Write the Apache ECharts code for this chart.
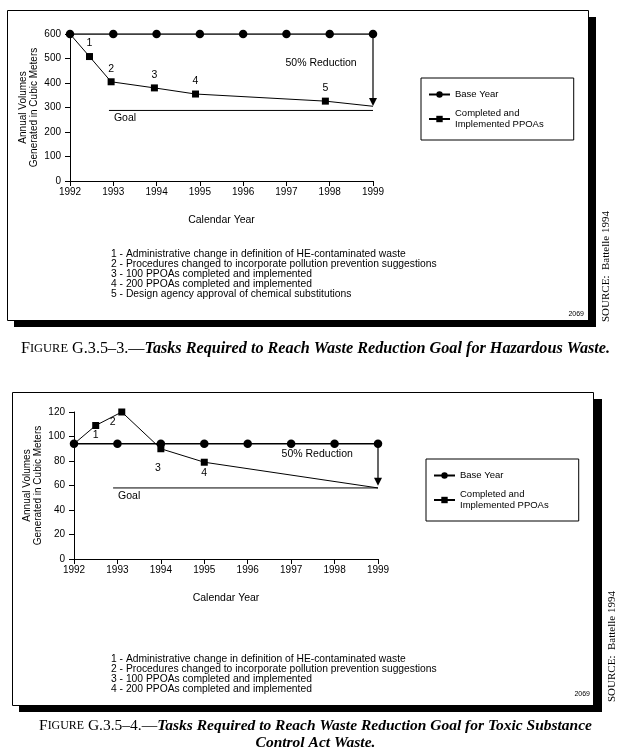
<!DOCTYPE html>
<html>
<head>
<meta charset="utf-8">
<script src="https://cdn.jsdelivr.net/npm/echarts@6/dist/echarts.min.js"></script>
<style>html,body{margin:0;padding:0;background:#fff;}#c{width:631px;height:754px;}</style>
</head>
<body>
<div id="c"></div>
<script>
// ---- data ----
const years = [1992, 1993, 1994, 1995, 1996, 1997, 1998, 1999];
const baseTop = [600, 600, 600, 600, 600, 600, 600, 600];
const ppoaTopX = [1992, 1992.45, 1992.95, 1993.95, 1994.9, 1997.9, 1999];
const ppoaTopY = [600, 508, 405, 380, 355, 326, 305];
const ppoaTopLabels = ['', '1', '2', '3', '4', '5', ''];
const goalTop = 288;
const arrowTop = [600, 322];

const baseBot = [94, 94, 94, 94, 94, 94, 94, 94];
const ppoaBotX = [1992, 1992.5, 1993.1, 1994, 1995, 1999];
const ppoaBotY = [94, 109, 120, 90, 79, 58];
const ppoaBotLabels = ['', '1', '2', '3', '4', ''];
const goalBot = 58;
const arrowBot = [94, 63];

const notesTop = [
  '1 - Administrative change in definition of HE-contaminated waste',
  '2 - Procedures changed to incorporate pollution prevention suggestions',
  '3 - 100 PPOAs completed and implemented',
  '4 - 200 PPOAs completed and implemented',
  '5 - Design agency approval of chemical substitutions'
];
const notesBot = notesTop.slice(0, 4);

const SANS = '"Liberation Sans", Arial, sans-serif';
const SERIF = '"Liberation Serif", "Times New Roman", serif';
const nameBase = 'Base Year';
const namePPOA = 'Completed and\nImplemented PPOAs';

function ppoaData(xs, ys, labels, pos) {
  return xs.map((x, i) => {
    const item = { value: [x, ys[i]] };
    if (!labels[i]) { item.symbol = 'none'; }
    else {
      item.label = Object.assign({ show: true, formatter: labels[i], color: '#000', fontFamily: SANS, fontSize: 10.5 }, pos[i] || {});
    }
    return item;
  });
}

const chart = echarts.init(document.getElementById('c'), null, { renderer: 'canvas' });

function xAxis(gi) {
  return {
    type: 'value', gridIndex: gi, min: 1992, max: 1999, interval: 1,
    name: 'Calendar Year', nameLocation: 'middle', nameGap: 34,
    nameTextStyle: { color: '#000', fontFamily: SANS, fontSize: 10.5 },
    axisLine: { lineStyle: { color: '#000', width: 1 } },
    axisTick: { show: true, length: 5, lineStyle: { color: '#000' } },
    axisLabel: { color: '#000', fontFamily: SANS, fontSize: 10, margin: 6, formatter: v => String(v) },
    splitLine: { show: false }
  };
}
function yAxis(gi, max, interval, gap) {
  return {
    type: 'value', gridIndex: gi, min: 0, max: max, interval: interval,
    name: 'Annual Volumes\nGenerated in Cubic Meters', nameLocation: 'middle', nameRotate: 90, nameGap: gap,
    nameTextStyle: { color: '#000', fontFamily: SANS, fontSize: 10, lineHeight: 10.5 },
    axisLine: { show: true, lineStyle: { color: '#000', width: 1 } },
    axisTick: { show: true, length: 5, lineStyle: { color: '#000' } },
    axisLabel: { color: '#000', fontFamily: SANS, fontSize: 10, margin: 9 },
    splitLine: { show: false }
  };
}

function baseSeries(gi, vals) {
  return {
    name: nameBase, type: 'line', xAxisIndex: gi, yAxisIndex: gi,
    data: years.map((y, i) => [y, vals[i]]),
    symbol: 'circle', symbolSize: 8.5, z: 4,
    lineStyle: { color: '#000', width: 1.5 }, itemStyle: { color: '#000' },
    animation: false
  };
}
function ppoaSeries(gi, data) {
  return {
    name: namePPOA, type: 'line', xAxisIndex: gi, yAxisIndex: gi,
    data: data, symbol: 'rect', symbolSize: 7, z: 3,
    lineStyle: { color: '#000', width: 1 }, itemStyle: { color: '#000' },
    animation: false
  };
}
function goalSeries(gi, val) {
  return {
    name: 'Goal', type: 'line', xAxisIndex: gi, yAxisIndex: gi,
    data: [
      { value: [1992.9, val], label: { show: true, formatter: 'Goal', position: 'bottom', align: 'left', distance: 2, offset: [5, 0], color: '#000', fontFamily: SANS, fontSize: 10.5 } },
      { value: [1999, val], symbol: 'none' }
    ],
    symbol: 'circle', symbolSize: 1, showSymbol: true,
    itemStyle: { color: 'rgba(0,0,0,0)', borderWidth: 0 },
    lineStyle: { color: '#000', width: 1 }, animation: false,
    emphasis: { disabled: true }
  };
}
function arrowSeries(gi, vals) {
  return {
    name: 'Arrow', type: 'line', xAxisIndex: gi, yAxisIndex: gi,
    data: [
      { value: [1999, vals[0]], symbol: 'none' },
      { value: [1999, vals[1]], symbol: 'triangle', symbolRotate: 180, symbolSize: [8, 8] }
    ],
    lineStyle: { color: '#000', width: 1.2 }, itemStyle: { color: '#000' }, z: 5, animation: false
  };
}
function textSeries(gi, x, y, txt) {
  return {
    name: 'Text', type: 'scatter', xAxisIndex: gi, yAxisIndex: gi,
    data: [[x, y]], symbolSize: 1, itemStyle: { color: 'rgba(0,0,0,0)', opacity: 1 },
    label: { show: true, formatter: txt, position: 'top', distance: 0, color: '#000', opacity: 1, fontFamily: SANS, fontSize: 10.5, textBorderWidth: 0 },
    emphasis: { disabled: true },
    animation: false
  };
}

const topPos = [null, { position: 'top', distance: 4 }, { position: 'top', distance: 4 }, { position: 'top', distance: 4 }, { position: 'top', distance: 4 }, { position: 'top', distance: 4 }, null];
const botPos = [null, { position: 'bottom', distance: 1 }, { position: 'bottom', distance: 1, offset: [-9, 0] }, { position: 'bottom', distance: 10, offset: [-3, 0] }, { position: 'bottom', distance: 2 }, null];

function legend(left, top) {
  return {
    data: [nameBase, namePPOA], orient: 'vertical', left: left, top: top,
    borderColor: '#000', borderWidth: 1, borderRadius: 0,
    padding: [11, 30, 10, 7], itemGap: 8, itemWidth: 21, itemHeight: 8,
    selectedMode: false,
    textStyle: { color: '#000', fontFamily: SANS, fontSize: 9.5, lineHeight: 11 }
  };
}

function noteGraphics(x, y0, lines) {
  return lines.map((t, i) => ({
    type: 'text', left: x, top: y0 + i * 10,
    style: { text: t, fill: '#000', font: '10.3px ' + SANS }
  }));
}

function capRich(fs) {
  return {
    a: { fontFamily: SERIF, fontSize: fs, fill: '#000' },
    b: { fontFamily: SERIF, fontSize: fs * 0.77, fill: '#000' },
    i: { fontFamily: SERIF, fontSize: fs, fontStyle: 'italic', fontWeight: 'bold', fill: '#000' }
  };
}

const graphic = [
  // top frame
  { type: 'rect', shape: { x: 7.5, y: 10.5, width: 581, height: 310 }, style: { fill: 'none', stroke: '#000', lineWidth: 1 } },
  { type: 'rect', shape: { x: 588, y: 17, width: 8, height: 310 }, style: { fill: '#000' } },
  { type: 'rect', shape: { x: 14, y: 320, width: 582, height: 7 }, style: { fill: '#000' } },
  // bottom frame
  { type: 'rect', shape: { x: 12.5, y: 392.5, width: 581, height: 313 }, style: { fill: 'none', stroke: '#000', lineWidth: 1 } },
  { type: 'rect', shape: { x: 594, y: 399, width: 8, height: 313 }, style: { fill: '#000' } },
  { type: 'rect', shape: { x: 19, y: 705, width: 583, height: 7 }, style: { fill: '#000' } },
  // figure ids
  { type: 'text', right: 631 - 584, top: 311, style: { text: '2069', fill: '#000', font: '7px ' + SANS } },
  { type: 'text', right: 631 - 590, top: 691, style: { text: '2069', fill: '#000', font: '7px ' + SANS } },
  // sources
  { type: 'text', x: 601, y: 322, rotation: Math.PI / 2, style: { text: 'SOURCE:  Battelle 1994', fill: '#000', font: '11px ' + SERIF, verticalAlign: 'top', align: 'left' } },
  { type: 'text', x: 607, y: 702, rotation: Math.PI / 2, style: { text: 'SOURCE:  Battelle 1994', fill: '#000', font: '11px ' + SERIF, verticalAlign: 'top', align: 'left' } },
  // captions
  { type: 'text', left: 'center', top: 341, style: {
      rich: capRich(16.2),
      text: '{a|F}{b|IGURE}{a| G.3.5–3.—}{i|Tasks Required to Reach Waste Reduction Goal for Hazardous Waste.}'
  } },
  { type: 'text', left: 'center', top: 718, style: {
      rich: capRich(15.5),
      text: '{a|F}{b|IGURE}{a| G.3.5–4.—}{i|Tasks Required to Reach Waste Reduction Goal for Toxic Substance}'
  } },
  { type: 'text', left: 'center', top: 735, style: { text: 'Control Act Waste.', fill: '#000', font: 'italic bold 15.5px ' + SERIF } }
].concat(noteGraphics(111, 249, notesTop), noteGraphics(111, 654, notesBot));

const option = {
  backgroundColor: '#fff',
  animation: false,
  grid: [
    { left: 70, right: 631 - 373, top: 34, height: 147 },
    { left: 74, right: 631 - 378, top: 412, height: 147 }
  ],
  xAxis: [xAxis(0), xAxis(1)],
  yAxis: [yAxis(0, 600, 100, 31), yAxis(1, 120, 20, 31)],
  legend: [legend(421, 78), legend(426, 459)],
  series: [
    baseSeries(0, baseTop),
    ppoaSeries(0, ppoaData(ppoaTopX, ppoaTopY, ppoaTopLabels, topPos)),
    goalSeries(0, goalTop),
    arrowSeries(0, arrowTop),
    textSeries(0, 1997.8, 457, '50% Reduction'),
    baseSeries(1, baseBot),
    ppoaSeries(1, ppoaData(ppoaBotX, ppoaBotY, ppoaBotLabels, botPos)),
    goalSeries(1, goalBot),
    arrowSeries(1, arrowBot),
    textSeries(1, 1997.6, 80.7, '50% Reduction')
  ],
  graphic: graphic
};
chart.setOption(option);
</script>
</body>
</html>
